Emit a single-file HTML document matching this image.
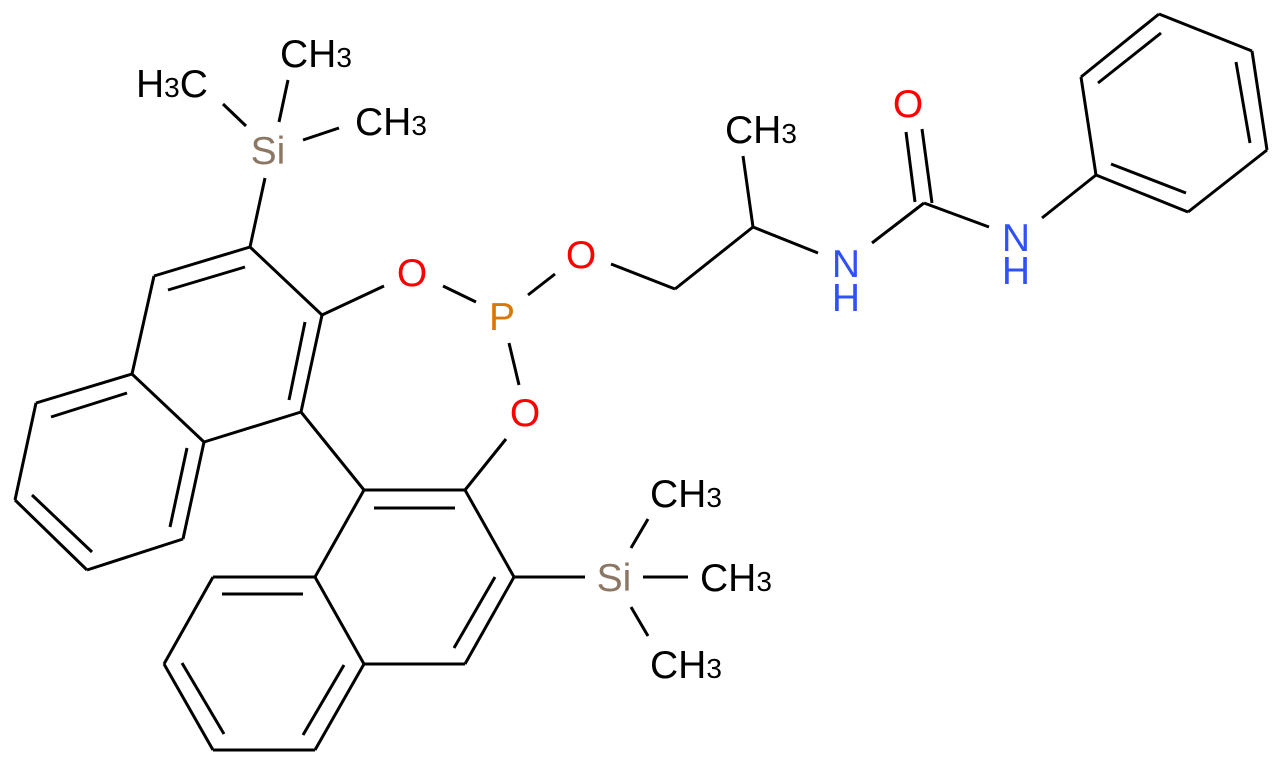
<!DOCTYPE html>
<html><head><meta charset="utf-8"><style>
html,body{margin:0;padding:0;background:#fff;}
svg{display:block;}
text{font-family:"Liberation Sans",sans-serif;font-size:39px;}
.s{font-size:28px;}
</style></head><body>
<svg width="1281" height="765" viewBox="0 0 1281 765" xmlns="http://www.w3.org/2000/svg">
<g stroke="#000" stroke-width="3" fill="none" stroke-linecap="butt">
<line x1="265" y1="178" x2="250" y2="247"/>
<line x1="288" y1="80" x2="279" y2="122"/>
<line x1="223" y1="104" x2="246" y2="126"/>
<line x1="303" y1="140" x2="339" y2="128"/>
<line x1="250" y1="247" x2="154" y2="276"/>
<line x1="245" y1="267" x2="168" y2="290"/>
<line x1="154" y1="276" x2="132" y2="374"/>
<line x1="250" y1="247" x2="322" y2="315"/>
<line x1="322" y1="315" x2="301" y2="412"/>
<line x1="305" y1="322" x2="289" y2="400"/>
<line x1="301" y1="412" x2="204" y2="442"/>
<line x1="204" y1="442" x2="132" y2="374"/>
<line x1="132" y1="374" x2="36" y2="403"/>
<line x1="127" y1="393" x2="51" y2="417"/>
<line x1="36" y1="403" x2="15" y2="500"/>
<line x1="15" y1="500" x2="87" y2="570"/>
<line x1="32" y1="495" x2="92" y2="552"/>
<line x1="87" y1="570" x2="183" y2="539"/>
<line x1="183" y1="539" x2="204" y2="442"/>
<line x1="170" y1="527" x2="187" y2="448"/>
<line x1="322" y1="315" x2="384" y2="286"/>
<line x1="443" y1="286" x2="476" y2="302"/>
<line x1="528" y1="295" x2="555" y2="274"/>
<line x1="509" y1="343" x2="519" y2="385"/>
<line x1="465" y1="490" x2="506" y2="439"/>
<line x1="301" y1="412" x2="364" y2="490"/>
<line x1="364" y1="490" x2="465" y2="490"/>
<line x1="374" y1="508" x2="455" y2="508"/>
<line x1="465" y1="490" x2="514" y2="577"/>
<line x1="514" y1="577" x2="465" y2="664"/>
<line x1="495" y1="577" x2="454" y2="648"/>
<line x1="465" y1="664" x2="364" y2="664"/>
<line x1="364" y1="664" x2="315" y2="577"/>
<line x1="315" y1="577" x2="364" y2="490"/>
<line x1="315" y1="577" x2="213" y2="577"/>
<line x1="222" y1="594" x2="303" y2="594"/>
<line x1="213" y1="577" x2="164" y2="664"/>
<line x1="164" y1="664" x2="213" y2="750"/>
<line x1="182" y1="663" x2="224" y2="734"/>
<line x1="213" y1="750" x2="315" y2="750"/>
<line x1="315" y1="750" x2="364" y2="664"/>
<line x1="303" y1="735" x2="344" y2="665"/>
<line x1="514" y1="577" x2="585" y2="577"/>
<line x1="643" y1="577" x2="688" y2="577"/>
<line x1="631" y1="548" x2="648" y2="519"/>
<line x1="631" y1="607" x2="648" y2="636"/>
<line x1="611" y1="264" x2="675" y2="289"/>
<line x1="675" y1="289" x2="753" y2="227"/>
<line x1="753" y1="227" x2="743" y2="156"/>
<line x1="753" y1="227" x2="818" y2="253"/>
<line x1="872" y1="243" x2="924" y2="203"/>
<line x1="906" y1="132" x2="915" y2="202"/>
<line x1="922" y1="129" x2="932" y2="203"/>
<line x1="924" y1="203" x2="989" y2="227"/>
<line x1="1042" y1="218" x2="1096" y2="175"/>
<line x1="1096" y1="175" x2="1081" y2="77"/>
<line x1="1081" y1="77" x2="1159" y2="14"/>
<line x1="1098" y1="83" x2="1161" y2="33"/>
<line x1="1159" y1="14" x2="1252" y2="51"/>
<line x1="1252" y1="51" x2="1267" y2="150"/>
<line x1="1236" y1="62" x2="1250" y2="143"/>
<line x1="1267" y1="150" x2="1188" y2="212"/>
<line x1="1188" y1="212" x2="1096" y2="175"/>
<line x1="1111" y1="164" x2="1186" y2="193"/>
</g>
<g text-anchor="middle">
<text x="268" y="164" fill="#8c7764">Si</text>
<text x="412" y="286" fill="#ff0000">O</text>
<text x="502" y="330" fill="#d97706">P</text>
<text x="581" y="268" fill="#ff0000">O</text>
<text x="525" y="426" fill="#ff0000">O</text>
<text x="614" y="591" fill="#8c7764">Si</text>
<text x="908" y="117" fill="#ff0000">O</text>
<text x="846" y="277" fill="#3050f8">N</text>
<text x="846" y="311" fill="#3050f8">H</text>
<text x="1016" y="251" fill="#3050f8">N</text>
<text x="1016" y="284" fill="#3050f8">H</text>
</g>
<g fill="#000">
<text x="136" y="97">H<tspan class="s">3</tspan>C</text>
<text x="280" y="67">CH<tspan class="s">3</tspan></text>
<text x="355" y="135">CH<tspan class="s">3</tspan></text>
<text x="725" y="143">CH<tspan class="s">3</tspan></text>
<text x="650" y="507">CH<tspan class="s">3</tspan></text>
<text x="700" y="591">CH<tspan class="s">3</tspan></text>
<text x="650" y="678">CH<tspan class="s">3</tspan></text>
</g>
</svg>
</body></html>
